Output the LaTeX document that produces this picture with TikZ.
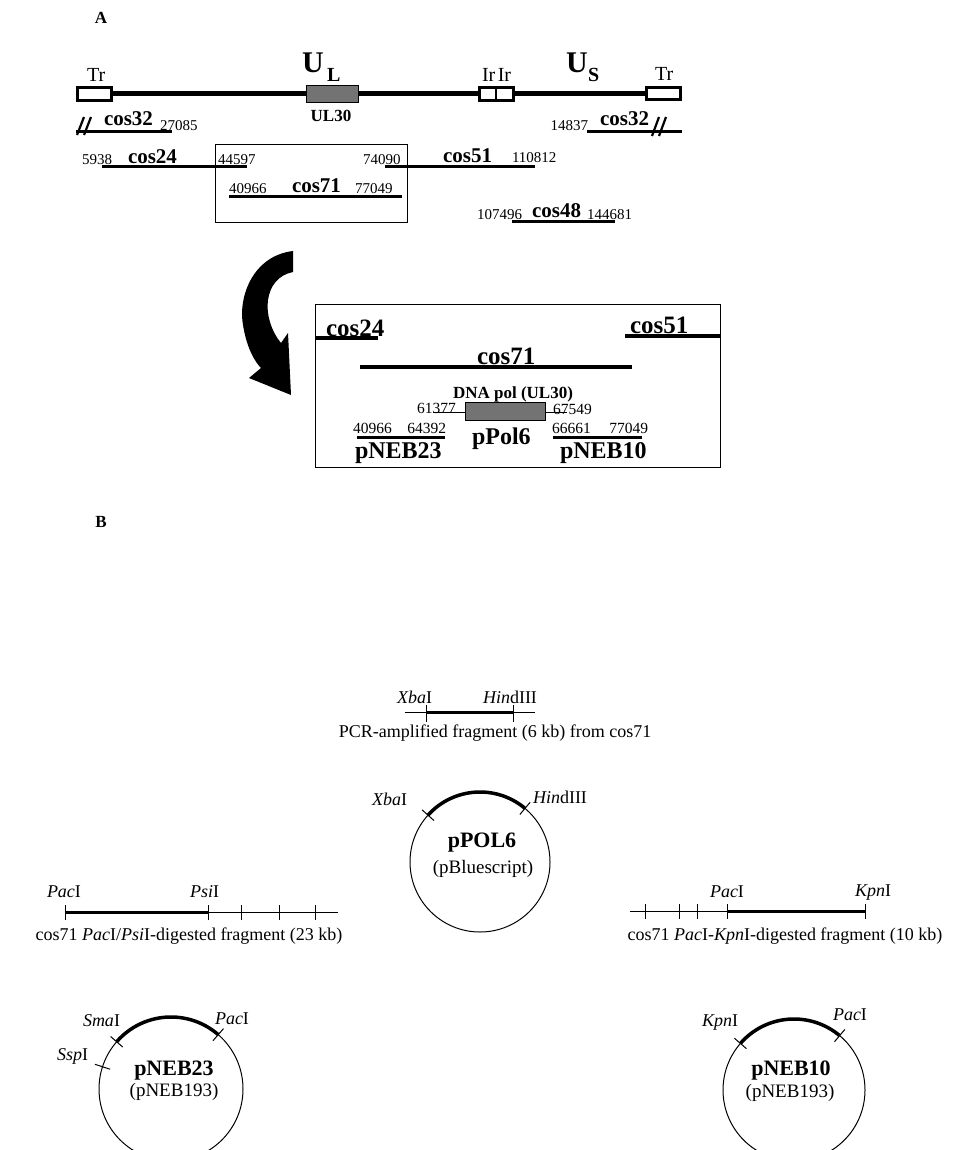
\documentclass[tikz,border=0pt]{standalone}
\usepackage{fontspec}
\setmainfont{Liberation Serif}
\usetikzlibrary{calc}
\tikzset{
  lbl/.style={inner sep=0pt, outer sep=0pt, anchor=base west},
  num/.style={lbl, font=\fontsize{15}{15}\selectfont},
  numb/.style={lbl, font=\fontsize{15.5}{15.5}\selectfont},
  cosa/.style={lbl, font=\bfseries\fontsize{21}{21}\selectfont},
  cosb/.style={lbl, font=\bfseries\fontsize{25}{25}\selectfont},
  plb/.style={lbl, font=\bfseries\fontsize{24}{24}\selectfont},
  enz/.style={lbl, font=\fontsize{18}{18}\selectfont},
  capt/.style={inner sep=0pt, anchor=base, font=\fontsize{18}{18}\selectfont},
  rtitle/.style={inner sep=0pt, anchor=base, font=\bfseries\fontsize{22}{22}\selectfont},
  rsub/.style={inner sep=0pt, anchor=base, font=\fontsize{19}{19}\selectfont},
  big/.style={lbl, font=\fontsize{20}{20}\selectfont},
  panel/.style={inner sep=0pt, anchor=base, font=\bfseries\fontsize{17}{17}\selectfont},
  repbox/.style={draw, line width=3pt, fill=white},
  genebox/.style={draw, line width=1pt, fill=black!55},
  frame/.style={draw, line width=0.9pt},
  thickl/.style={line width=3pt},
  thinl/.style={line width=1pt},
  tick/.style={line width=1pt},
  circ/.style={line width=1pt},
  carc/.style={line width=3.5pt}
}
\begin{document}
\begin{tikzpicture}[x=1pt,y=-1pt]
\useasboundingbox (0,0) rectangle (962,1150);
% panel labels
\node[panel] (pa) at (101,24) {A};
\node[panel] (pb) at (101,527) {B};
% ---------- genome map ----------
\coordinate (gl) at (111,94);
\coordinate (gr) at (645,94);
\draw[line width=5pt] (gl) -- (gr);
\draw[repbox] (77,88) rectangle (111,101);
\node[big] (tr1) at (87,82) {Tr};
\draw[genebox] (306,86) rectangle (358,103);
\node[lbl, font=\bfseries\fontsize{17}{17}\selectfont, anchor=base] (ul30) at (331,122) {UL30};
\node[lbl, font=\bfseries\fontsize{30}{30}\selectfont] (UL) at (302,73) {U};
\node[lbl, font=\bfseries\fontsize{20}{20}\selectfont] (ULs) at (327,82) {L};
\draw[repbox] (479,88) rectangle (513,101);
\draw[line width=2pt] (496,88) -- (496,101);
\node[big] (irir) at (482,82) {Ir\kern2.5pt Ir};
\node[lbl, font=\bfseries\fontsize{30}{30}\selectfont] (US) at (566,73) {U};
\node[lbl, font=\bfseries\fontsize{20}{20}\selectfont] (USs) at (588,82) {S};
\draw[repbox] (646,88) rectangle (680,100);
\node[big] (tr2) at (655,81) {Tr};
% cos32 left
\draw[thickl] (76,132) -- (172,132);
\draw[line width=2.2pt] (77,135) -- (84,117) (84,135) -- (91,117);
\node[cosa] (c32a) at (104,126) {cos32};
\node[num] (n27085) at (160,131) {27085};
% cos32 right
\node[num, anchor=base east] (n14837) at (588,131) {14837};
\draw[thickl] (587,132) -- (682,132);
\node[cosa] (c32b) at (600,126) {cos32};
\draw[line width=2.2pt] (652,136) -- (659,117) (659,136) -- (666,117);
% cos24
\draw[thickl] (102,167) -- (247,167);
\node[num] (n5938) at (82,165) {5938};
\node[cosa] (c24) at (128,164) {cos24};
\node[num] (n44597) at (218,165) {44597};
% small frame
\draw[frame] (215,144) rectangle (407,222);
% cos51
\node[num] (n74090) at (363,165) {74090};
\draw[thickl] (385,167) -- (535,167);
\node[cosa] (c51) at (443,163) {cos51};
\node[num] (n110812) at (512,163) {110812};
% cos71
\draw[thickl] (229,197) -- (402,197);
\node[num] (n40966) at (229,194) {40966};
\node[cosa] (c71) at (292,193) {cos71};
\node[num] (n77049) at (355,194) {77049};
% cos48
\draw[thickl] (512,222) -- (615,222);
\node[num] (n107496) at (477,220) {107496};
\node[cosa] (c48) at (532,218) {cos48};
\node[num] (n144681) at (587,220) {144681};
% ---------- curved arrow ----------
\fill (293,251) .. controls (252,256) and (238,298) .. (243,325)
  .. controls (247,350) and (256,363) .. (261,368)
  -- (249,378) -- (291,395) -- (288,333) -- (281,343)
  .. controls (271,331) and (266,314) .. (268,300)
  .. controls (270,286) and (278,275) .. (293,272) -- cycle;
% ---------- zoom frame ----------
\draw[frame] (315,304) rectangle (720,467);
\draw[line width=3.5pt] (315,338) -- (378,338);
\node[cosb] (c24b) at (326,336) {cos24};
\draw[line width=3.5pt] (625,336) -- (720,336);
\node[cosb] (c51b) at (630,333) {cos51};
\draw[line width=3.5pt] (360,367) -- (632,367);
\node[cosb] (c71b) at (477,364) {cos71};
\node[lbl, font=\bfseries\fontsize{17}{17}\selectfont] (dnapol) at (453,398) {DNA pol (UL30)};
\draw[thinl] (433,412) -- (465,412);
\draw[thinl] (545,412) -- (567,412);
\draw[genebox] (465,402) rectangle (545,420);
\node[numb] (n61377) at (417,413) {61377};
\node[numb] (n67549) at (553,414) {67549};
\draw[thickl] (357,437) -- (445,437);
\node[numb] (n40966b) at (353,433) {40966};
\node[numb, anchor=base east] (n64392) at (446,433) {64392};
\draw[thickl] (553,437) -- (642,437);
\node[numb] (n66661) at (552,433) {66661};
\node[numb, anchor=base east] (n77049b) at (648,433) {77049};
\node[plb] (ppol6) at (472,444) {pPol6};
\node[plb] (pneb23a) at (355,458) {pNEB23};
\node[plb] (pneb10a) at (560,458) {pNEB10};
% ---------- B: PCR fragment ----------
\draw[thinl] (405,712) -- (535,712);
\draw[thickl] (426,712) -- (513,712);
\draw[tick] (426,705) -- (426,722) (513,705) -- (513,722);
\node[enz] (xba1) at (397,703) {\textit{Xba}I};
\node[enz] (hind1) at (483,703) {\textit{Hin}dIII};
\node[capt] (pcr) at (495,737) {PCR-amplified fragment (6 kb) from cos71};
% pPOL6
\coordinate (c1) at (480,862);
\draw[circ] (c1) circle[radius=70pt];
\draw[carc] ($(c1)+(50:70pt)$) arc[start angle=50, end angle=138, radius=70pt];
\draw[tick] ($(c1)+(50:62pt)$) -- ($(c1)+(50:78pt)$);
\draw[tick] ($(c1)+(138:62pt)$) -- ($(c1)+(138:78pt)$);
\node[enz] (xba2) at (372,805) {\textit{Xba}I};
\node[enz] (hind2) at (533,803) {\textit{Hin}dIII};
\node[rtitle] (ppol6b) at (482,847) {pPOL6};
\node[rsub] (pblue) at (483,873) {(pBluescript)};
% PacI/PsiI fragment
\draw[thinl] (65,912) -- (338,912);
\draw[thickl] (65,912) -- (208,912);
\foreach \tx in {65,208,241,279,315} \draw[tick] (\tx,905) -- (\tx,920);
\node[enz] (pac1) at (47,897) {\textit{Pac}I};
\node[enz] (psi1) at (190,897) {\textit{Psi}I};
\node[capt] (cap2) at (189,940) {cos71 \textit{Pac}I/\textit{Psi}I-digested fragment (23 kb)};
% PacI-KpnI fragment
\draw[thinl] (630,911) -- (865,911);
\draw[thickl] (727,911) -- (865,911);
\foreach \tx in {645,679,697,727,865} \draw[tick] (\tx,904) -- (\tx,919);
\node[enz] (pac2) at (710,897) {\textit{Pac}I};
\node[enz] (kpn1) at (855,896) {\textit{Kpn}I};
\node[capt] (cap3) at (785,940) {cos71 \textit{Pac}I-\textit{Kpn}I-digested fragment (10 kb)};
% pNEB23
\coordinate (c2) at (171,1089);
\draw[circ] (c2) circle[radius=72pt];
\draw[carc] ($(c2)+(49:72pt)$) arc[start angle=49, end angle=139, radius=72pt];
\draw[tick] ($(c2)+(49:64pt)$) -- ($(c2)+(49:80pt)$);
\draw[tick] ($(c2)+(139:64pt)$) -- ($(c2)+(139:80pt)$);
\draw[tick] ($(c2)+(162:64pt)$) -- ($(c2)+(162:80pt)$);
\node[enz] (sma) at (83,1026) {\textit{Sma}I};
\node[enz] (pac3) at (215,1024) {\textit{Pac}I};
\node[enz] (ssp) at (57,1060) {\textit{Ssp}I};
\node[rtitle] (pneb23b) at (174,1075) {pNEB23};
\node[rsub] (pneb193a) at (174,1096) {(pNEB193)};
% pNEB10
\coordinate (c3) at (794,1090);
\draw[circ] (c3) circle[radius=71pt];
\draw[carc] ($(c3)+(50:71pt)$) arc[start angle=50, end angle=139, radius=71pt];
\draw[tick] ($(c3)+(50:63pt)$) -- ($(c3)+(50:79pt)$);
\draw[tick] ($(c3)+(139:63pt)$) -- ($(c3)+(139:79pt)$);
\node[enz] (kpn2) at (702,1026) {\textit{Kpn}I};
\node[enz] (pac4) at (833,1020) {\textit{Pac}I};
\node[rtitle] (pneb10b) at (791,1075) {pNEB10};
\node[rsub] (pneb193b) at (790,1097) {(pNEB193)};
\end{tikzpicture}
\end{document}
